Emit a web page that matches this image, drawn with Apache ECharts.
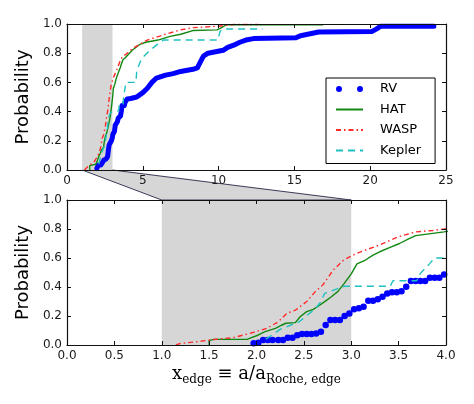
<!DOCTYPE html>
<html><head><meta charset="utf-8">
<script src="https://cdn.jsdelivr.net/npm/echarts@6/dist/echarts.min.js"></script>
<style>html,body{margin:0;padding:0;background:#fff}#c{width:474px;height:404px}</style>
</head><body><div id="c"></div>
<script>
// ---- tick values ----
const topXTicks = [0, 5, 10, 15, 20, 25];
const bottomXTicks = [0, 0.5, 1, 1.5, 2, 2.5, 3, 3.5, 4];
const yTicks = [0, 0.2, 0.4, 0.6, 0.8, 1.0];
const zoomRange = [1, 3];
const seriesNames = ['RV', 'HAT', 'WASP', 'Kepler'];

// ---- series values: [x_edge, cumulative probability] ----
const rvPoints = [[1.97,0.012],[2.02,0.016],[2.07,0.034],[2.12,0.034],[2.17,0.034],[2.23,0.034],[2.28,0.034],[2.33,0.05],[2.38,0.05],[2.43,0.068],[2.48,0.076],[2.53,0.076],[2.58,0.076],[2.63,0.08],[2.68,0.092],[2.73,0.138],[2.78,0.172],[2.83,0.172],[2.88,0.172],[2.93,0.2],[2.98,0.218],[3.03,0.246],[3.08,0.253],[3.13,0.264],[3.18,0.306],[3.23,0.306],[3.28,0.315],[3.33,0.333],[3.38,0.356],[3.43,0.363],[3.48,0.363],[3.53,0.37],[3.58,0.402],[3.63,0.441],[3.68,0.441],[3.73,0.441],[3.78,0.441],[3.83,0.464],[3.88,0.464],[3.93,0.464],[3.98,0.487],[4.2,0.49],[4.6,0.50],[5.0,0.53],[5.3,0.56],[5.6,0.60],[5.9,0.63],[6.2,0.64],[6.5,0.65],[7.0,0.66],[7.5,0.675],[8.3,0.69],[8.6,0.70],[8.8,0.74],[9.0,0.78],[9.3,0.80],[9.8,0.81],[10.3,0.82],[10.6,0.84],[11.0,0.855],[11.4,0.875],[11.8,0.89],[12.3,0.90],[15.1,0.905],[15.4,0.92],[16.6,0.945],[20.1,0.948],[20.4,0.965],[20.7,0.985],[24.2,0.985]];
const hatPoints = [[1.5,0],[1.5,0.03],[1.55,0.039],[1.9,0.039],[2.02,0.069],[2.09,0.092],[2.2,0.115],[2.27,0.138],[2.31,0.15],[2.41,0.154],[2.46,0.195],[2.53,0.23],[2.6,0.246],[2.67,0.276],[2.72,0.299],[2.79,0.333],[2.86,0.37],[2.92,0.42],[3.0,0.49],[3.06,0.56],[3.15,0.586],[3.23,0.62],[3.3,0.643],[3.41,0.673],[3.51,0.70],[3.6,0.73],[3.68,0.754],[3.86,0.77],[3.98,0.78],[4.3,0.82],[4.8,0.86],[5.2,0.875],[6.0,0.89],[6.8,0.915],[7.5,0.93],[8.3,0.955],[9.9,0.96],[10.2,0.975],[10.5,0.995],[16.9,0.995]];
const waspPoints = [[1.15,0],[1.19,0.01],[1.4,0.025],[1.58,0.04],[1.75,0.05],[1.93,0.08],[2.11,0.115],[2.23,0.16],[2.32,0.218],[2.41,0.24],[2.53,0.3],[2.62,0.368],[2.7,0.414],[2.81,0.517],[2.92,0.586],[3.06,0.632],[3.15,0.655],[3.3,0.69],[3.5,0.747],[3.68,0.78],[3.86,0.79],[3.98,0.80],[4.3,0.83],[5.3,0.89],[6.5,0.93],[7.5,0.96],[8.3,0.975],[10.0,0.985],[11.0,0.997],[12.6,0.997]];
const keplerPoints = [[2.1,0.04],[2.25,0.108],[2.45,0.16],[2.62,0.25],[2.67,0.29],[2.72,0.356],[2.8,0.375],[2.88,0.395],[2.93,0.405],[3.41,0.405],[3.44,0.443],[3.69,0.443],[3.73,0.494],[3.83,0.563],[3.88,0.6],[4.55,0.6],[4.6,0.68],[4.9,0.76],[5.47,0.82],[5.9,0.855],[6.36,0.89],[9.95,0.89],[10.1,0.95],[10.3,0.966],[12.9,0.966]];

const FONT = "'DejaVu Sans', sans-serif";
const SERIF = "'DejaVu Serif', serif";
const INK = '#111';
const SHADE = '#d6d6d6';

function axis(gridIndex, ticks, position, showLabels, decimals, extra) {
  return Object.assign({
    type: 'value', gridIndex: gridIndex, position: position,
    min: ticks[0], max: ticks[ticks.length - 1], interval: ticks[1] - ticks[0],
    z: 5,
    axisLine: { show: true, onZero: false, lineStyle: { color: INK, width: 1.2 } },
    axisTick: { show: true, inside: true, length: 4, lineStyle: { color: INK, width: 1 } },
    axisLabel: { show: showLabels, fontFamily: FONT, fontSize: 12, color: '#1a1a1a', margin: 5,
      showMinLabel: true, showMaxLabel: true, formatter: v => Number(v).toFixed(decimals) },
    splitLine: { show: false }
  }, extra || {});
}
const yName = { name: 'Probability', nameLocation: 'middle', nameGap: 33,
  nameTextStyle: { fontFamily: FONT, fontSize: 18, color: '#000' } };
const xName = { name: '{m|x}{s|edge}{m| ≡ a/a}{s|Roche, edge}', nameLocation: 'middle', nameGap: 18,
  nameTextStyle: { fontFamily: SERIF, fontSize: 18, color: '#000', rich: {
    m: { fontFamily: SERIF, fontSize: 18, lineHeight: 23, color: '#000' },
    s: { fontFamily: SERIF, fontSize: 12, lineHeight: 10, verticalAlign: 'bottom', color: '#000' } } } };

const colors = { RV: '#0000ff', HAT: '#118811', WASP: '#ff2a2a', Kepler: '#1fc0c0' };
const styles = { HAT: 'solid', WASP: [5, 3, 1.5, 3], Kepler: [7, 5] };
const dataByName = { RV: rvPoints, HAT: hatPoints, WASP: waspPoints, Kepler: keplerPoints };

const panels = [{ x: 0, y: 0 }, { x: 2, y: 2 }];
const series = [];
panels.forEach((p, i) => {
  series.push({ type: 'line', xAxisIndex: p.x, yAxisIndex: p.y, data: [], silent: true, z: 1,
    markArea: { silent: true, itemStyle: { color: SHADE }, data: [[{ xAxis: zoomRange[0] }, { xAxis: zoomRange[1] }]] } });
  seriesNames.forEach(n => {
    if (n === 'RV') {
      if (i === 0) {
        series.push({ name: n, type: 'line', xAxisIndex: p.x, yAxisIndex: p.y, data: dataByName[n], symbol: 'none',
          lineStyle: { color: colors[n], width: 5, cap: 'round', join: 'round' }, itemStyle: { color: colors[n] }, z: 2 });
      } else {
        series.push({ name: n, type: 'scatter', xAxisIndex: p.x, yAxisIndex: p.y, data: dataByName[n], symbol: 'circle',
          symbolSize: 6.5, itemStyle: { color: colors[n], opacity: 1 }, z: 2 });
      }
    } else {
      series.push({ name: n, type: 'line', xAxisIndex: p.x, yAxisIndex: p.y, data: dataByName[n], symbol: 'none',
        lineStyle: { color: colors[n], width: 1.4, type: styles[n] }, itemStyle: { color: colors[n] }, z: 3 });
    }
  });
});

const rvIcon = 'path://M0,3a3,3 0 1,0 6,0a3,3 0 1,0 -6,0M21,3a3,3 0 1,0 6,0a3,3 0 1,0 -6,0';

const option = {
  animation: false,
  backgroundColor: '#fff',
  grid: [
    { left: 67, top: 24, width: 379, height: 146 },
    { left: 67, top: 200, width: 379, height: 145 }
  ],
  xAxis: [
    axis(0, topXTicks, 'bottom', true, 0),
    axis(0, topXTicks, 'top', false, 0),
    axis(1, bottomXTicks, 'bottom', true, 1, xName),
    axis(1, bottomXTicks, 'top', false, 1)
  ],
  yAxis: [
    axis(0, yTicks, 'left', true, 1, yName),
    axis(0, yTicks, 'right', false, 1),
    axis(1, yTicks, 'left', true, 1, yName),
    axis(1, yTicks, 'right', false, 1)
  ],
  legend: {
    data: seriesNames.map(n => n === 'RV' ? { name: n, icon: rvIcon } : { name: n, itemStyle: { opacity: 0 } }),
    orient: 'vertical', left: 326, top: 78, padding: [4, 14, 6, 9], itemGap: 6.5,
    itemWidth: 27, itemHeight: 6, borderColor: '#000', borderWidth: 1, backgroundColor: '#fff',
    selectedMode: false, z: 6,
    textStyle: { fontFamily: FONT, fontSize: 13, lineHeight: 14, color: '#000', padding: [0, 0, 0, 12] }
  },
  series: series
};

const chart = echarts.init(document.getElementById('c'), null, { renderer: 'canvas' });
chart.setOption(option);

// zoom connector between the shaded range of the top panel and the bottom panel
const a = chart.convertToPixel({ gridIndex: 0 }, [zoomRange[0], yTicks[0]]);
const b = chart.convertToPixel({ gridIndex: 0 }, [zoomRange[1], yTicks[0]]);
const c = chart.convertToPixel({ gridIndex: 1 }, [zoomRange[1], yTicks[yTicks.length - 1]]);
const d = chart.convertToPixel({ gridIndex: 1 }, [zoomRange[0], yTicks[yTicks.length - 1]]);
chart.setOption({ graphic: [{ type: 'polygon', z: -1, silent: true,
  shape: { points: [a, b, c, d] }, style: { fill: SHADE, stroke: '#3a3a58', lineWidth: 1 } }] });
</script></body></html>
